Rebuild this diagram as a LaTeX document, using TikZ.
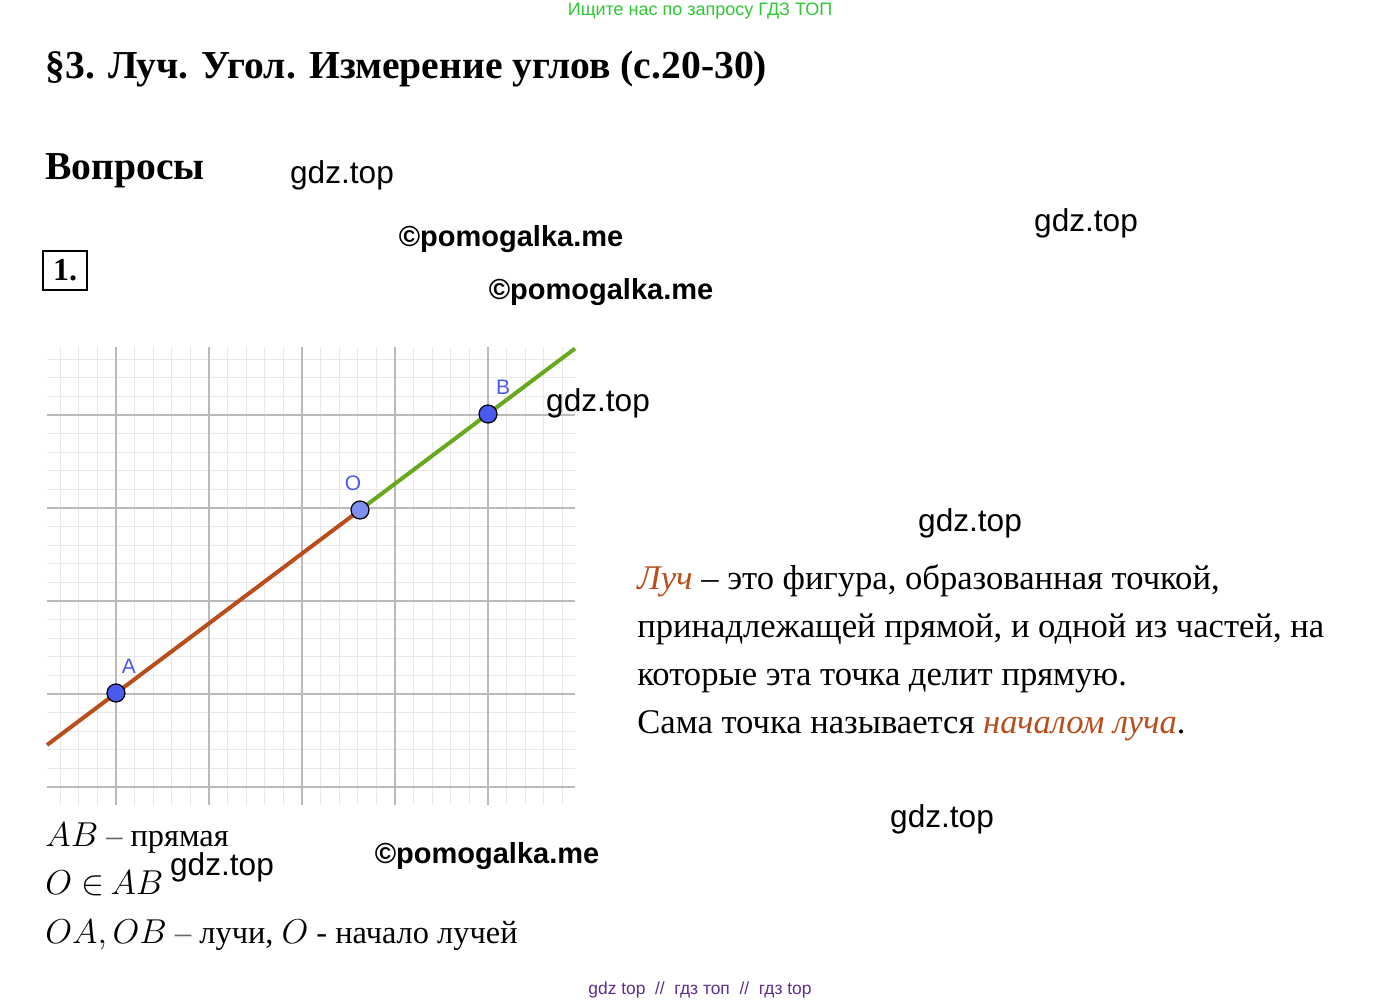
\documentclass[tikz,border=0pt]{standalone}
\usepackage{fontspec}
\setmainfont{Liberation Serif}
\newfontfamily\wmfont{Liberation Sans}
\definecolor{raybrown}{RGB}{185,78,28}
\definecolor{raygreen}{RGB}{102,168,30}
\definecolor{ptblue}{RGB}{75,90,238}
\definecolor{ptlight}{RGB}{128,142,240}
\definecolor{hdrgreen}{RGB}{45,200,50}
\definecolor{ftpurple}{RGB}{95,45,140}
\tikzset{
	wm/.style={font=\wmfont\fontsize{15.8}{18}\selectfont, inner sep=0pt},
	pomo/.style={font=\wmfont\bfseries\fontsize{14.5}{17}\selectfont, inner sep=0pt},
	txt/.style={anchor=base west, inner sep=0pt, font=\fontsize{17.3}{20}\selectfont},
	note/.style={anchor=base west, inner sep=0pt, font=\fontsize{16.2}{19}\selectfont},
	head/.style={anchor=base west, inner sep=0pt, font=\bfseries\fontsize{19.8}{23}\selectfont},
	minorline/.style={draw=black!9, line width=0.6pt},
	majorline/.style={draw=black!27, line width=0.9pt},
	ptdot/.style={circle, draw=black, line width=0.6pt, minimum size=9pt, inner sep=0pt},
	ptlabel/.style={font=\wmfont\fontsize{10.5}{12}\selectfont, text=ptblue, inner sep=0pt}
}

\begin{document}
\begin{tikzpicture}[x=0.5pt, y=-0.5pt]
	\useasboundingbox (0,0) rectangle (1400,1005);
	%header and footer
	\node[font=\wmfont\fontsize{9}{10}\selectfont, text=hdrgreen, inner sep=0pt] (hdr) at (700,11) {Ищите нас по запросу ГДЗ ТОП};
	\node[font=\wmfont\fontsize{8.7}{10}\selectfont, text=ftpurple, inner sep=0pt] (ftr) at (700,990) {gdz top \ // \ гдз топ \ // \ гдз top};
	%title
	\node[head] (title) at (45,79) {§3. Луч. Угол. Измерение углов (с.20-30)};
	\node[head] (quest) at (45,180) {Вопросы};
	\node[draw, line width=1pt, minimum width=22pt, minimum height=19.5pt, inner sep=0pt, font=\bfseries\fontsize{16}{19}\selectfont] (num) at (65,270.5) {1.};
	%grid
	\foreach \k in {0,...,23}
	\draw[minorline] (47,359.2+\k*18.6) -- (575,359.2+\k*18.6);
	\foreach \k in {0,...,27}
	\draw[minorline] (60.2+\k*18.6,347) -- (60.2+\k*18.6,805);
	\foreach \j in {0,...,4}
	{
		\draw[majorline] (47,415+\j*93) -- (575,415+\j*93);
		\draw[majorline] (116+\j*93,347) -- (116+\j*93,805);
	}
	%line AB
	\coordinate (lend) at (47,745);
	\coordinate (rend) at (575,348.5);
	\coordinate (A) at (116,693);
	\coordinate (O) at (360,510);
	\coordinate (B) at (488,414);
	\draw[raybrown, line width=2pt] (lend) -- (O);
	\draw[raygreen, line width=2pt] (O) -- (rend);
	%points
	\node[ptdot, fill=ptblue] (ptA) at (A) {};
	\node[ptdot, fill=ptlight] (ptO) at (O) {};
	\node[ptdot, fill=ptblue] (ptB) at (B) {};
	\node[ptlabel] (labA) at (129,666) {A};
	\node[ptlabel] (labO) at (353,483) {O};
	\node[ptlabel] (labB) at (503,387) {B};
	%notes under the grid
	\node[note] (note1) at (45,846) {$AB$ \textcolor{black!60}{–} прямая};
	\node[note] (note2) at (45,894) {$O\;{\in}\,AB$};
	\node[note] (note3) at (45,943) {$OA,OB$ \textcolor{black!60}{–} лучи, $O$ - начало лучей};
	%definition
	\node[txt] (def1) at (637,589) {\textcolor{raybrown}{\textit{Луч}} – это фигура, образованная точкой,};
	\node[txt] (def2) at (637,637) {принадлежащей прямой, и одной из частей, на};
	\node[txt] (def3) at (637,685) {которые эта точка делит прямую.};
	\node[txt] (def4) at (637,733) {Сама точка называется \textcolor{raybrown}{\textit{началом луча}}.};
	%watermarks
	\node[wm] (wm1) at (342,175) {gdz.top};
	\node[wm] (wm2) at (1086,223) {gdz.top};
	\node[wm] (wm3) at (598,403) {gdz.top};
	\node[wm] (wm4) at (970,523) {gdz.top};
	\node[wm] (wm5) at (942,819) {gdz.top};
	\node[wm] (wm6) at (222,867) {gdz.top};
	\node[pomo] (pm1) at (511,239) {©pomogalka.me};
	\node[pomo] (pm2) at (601,292) {©pomogalka.me};
	\node[pomo] (pm3) at (487,856) {©pomogalka.me};
\end{tikzpicture}
\end{document}
